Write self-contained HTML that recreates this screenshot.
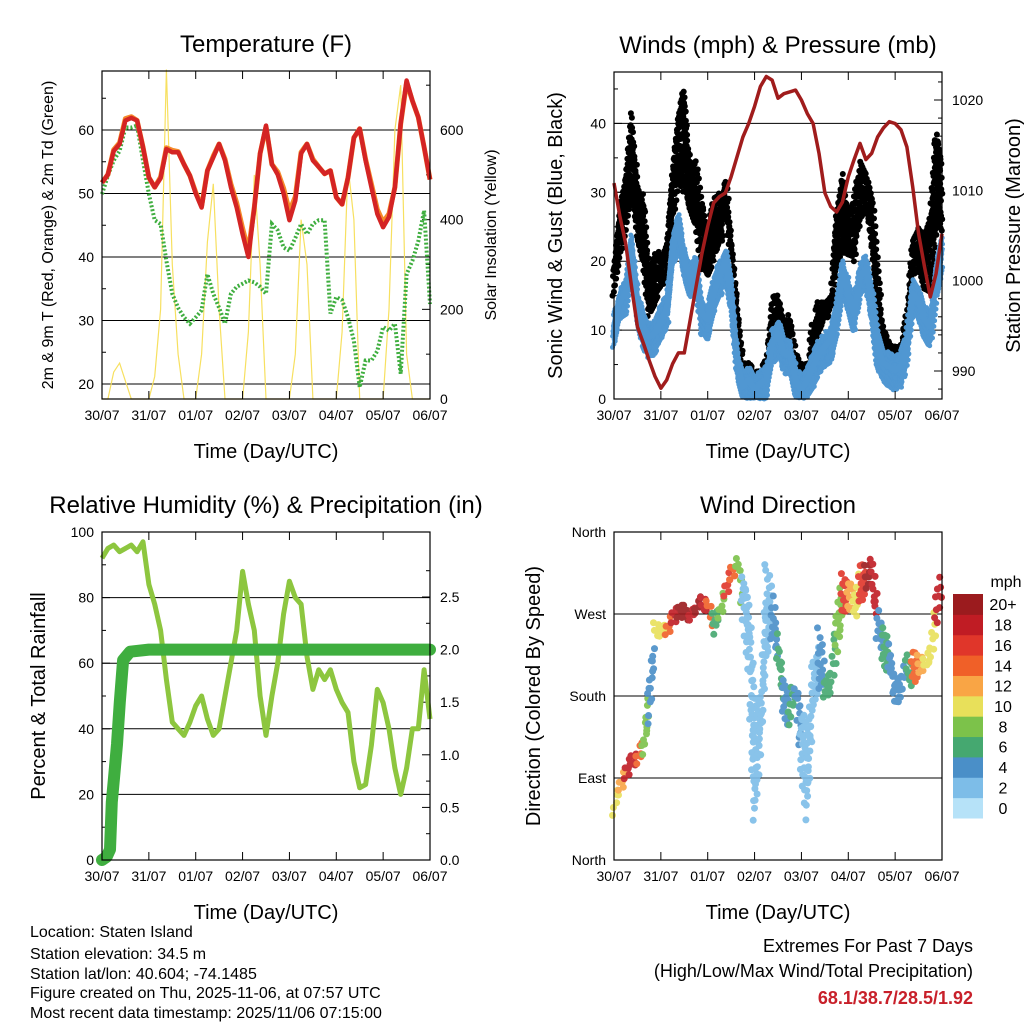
<!DOCTYPE html>
<html><head><meta charset="utf-8"><style>
html,body{margin:0;padding:0;background:#fff;}
svg{display:block;font-family:"Liberation Sans",Arial,sans-serif;}
</style></head><body>
<svg id="chart" width="1024" height="1024" viewBox="0 0 1024 1024" xmlns="http://www.w3.org/2000/svg">
<rect width="1024" height="1024" fill="#fff"/>
<g id="layer"></g>
<g font-size="16" fill="#000">
<text x="30" y="937">Location: Staten Island</text>
<text x="30" y="959">Station elevation: 34.5 m</text>
<text x="30" y="979">Station lat/lon: 40.604; -74.1485</text>
<text x="30" y="998">Figure created on Thu, 2025-11-06, at 07:57 UTC</text>
<text x="30" y="1018">Most recent data timestamp: 2025/11/06 07:15:00</text>
</g>
<g text-anchor="end">
<text x="973" y="952" font-size="18">Extremes For Past 7 Days</text>
<text x="973" y="977" font-size="18">(High/Low/Max Wind/Total Precipitation)</text>
<text x="973" y="1004" font-size="18" font-weight="bold" fill="#c8202a">68.1/38.7/28.5/1.92</text>
</g>
</svg>
<script>
const dayLabels = ["30/07","31/07","01/07","02/07","03/07","04/07","05/07","06/07"];
const tempRed = [51.7,53,56.7,57.8,61.5,61.9,61.5,57.3,52.5,51,52.4,57,56.5,56.5,54.6,52.8,50,47.8,53.6,55.7,57.8,55.2,51,47.8,43.6,40,47.8,56.3,60.7,54.6,53,50,45.8,48.9,56.3,57.8,55.2,54.2,53.1,53.6,49.4,48.3,52.5,58.8,60.2,55.2,51,46.8,44.7,46.3,51,61,67.8,64.6,62,57.3,52.2];
const tempOrange = [51.7,53,56.9,58,61.8,62.1,61.5,57.3,52.5,51,52.6,57.2,56.8,56.6,54.6,52.8,50.2,48,53.6,55.9,57.8,55.4,51.5,48.5,44.5,41,47.8,56.3,60.5,54.6,53.4,50.8,47.2,49.5,56.5,57.8,55.4,54.2,53.1,53.6,49.4,48.3,52.5,58.8,60.2,55.4,51.5,47.5,45.5,46.8,51,61,67.5,64.6,62,57.3,52.2];
const dewGreen = [49.9,52.8,55.2,56.7,60.4,60.4,60.7,55.2,49.9,45.8,45.2,39.4,34.2,32,30.5,29.5,30.5,31.6,37.3,34.2,32,29.5,34.2,35.3,35.8,36.3,36,35.3,34.2,45.2,44.2,41.5,41,43,45.2,43.6,45.2,45.8,45.8,31.1,33.7,33.2,30.5,26.8,19.5,23.7,23.7,25.2,29,28.4,29.5,21.6,37.3,39.4,42.5,47.3,32.6];
const solar = [0,0,60,80,40,0,0,0, 0,50,200,735,300,100,0,0, 0,100,350,480,200,0,0,0, 0,150,500,300,0,0,0,0, 0,100,400,300,0,0,0,0, 0,150,520,400,0,0,0,0, 0,200,600,700,100,0,0,0, 0];
const pressure = [1010.8,1007.1,1004.1,999.3,994.9,993.1,991.2,989.4,988.1,989,990.8,992,992,995.6,999.3,1003,1006,1008.6,1009.3,1009.7,1011.5,1013.7,1015.9,1017.4,1019.3,1021.5,1022.6,1022.2,1020.2,1020.7,1020.9,1021.1,1020,1018.5,1017.4,1014.1,1009.7,1008.2,1007.6,1008.7,1011.5,1013.4,1015.2,1013.4,1014.1,1015.9,1016.9,1017.6,1017.4,1016.7,1014.8,1010.4,1005.2,1001.6,998.2,1000.8,1005.2];
const windSpeed = [10.5,14.3,15.3,22,14,10.5,9,9.5,11.5,13,22,25,20,17.7,19,12.4,11.5,15.3,17.7,20,15.3,5.6,1.8,2.8,1.3,2.3,2.8,8,9.5,6.6,6.6,2.8,1.3,2.8,4.7,6.6,7.6,8.6,12.4,18.2,15.3,12.4,17.7,19,14.3,7.6,5.2,4.7,4.2,4.7,7.6,15.3,14.3,11.5,10.5,17.7,22];
const gustLow = [15,20,25,30,23,20,12,14,16,17,25,32,30,27,25,19,17.7,20,22,26,20,8,3.2,3.7,2.8,3.2,3.7,10.5,11.5,8.5,9,4.7,3.2,3.7,7,9,11.5,12.4,17.7,22,20,20,25,27.4,22,11.5,7.6,6.6,5.6,6.6,9.5,17.2,18.2,15.3,15.3,25,24];
const gustHigh = [21,29,33,42,32,30,19,22,21,24,35,42,45,35,35,29,25,29,30,32,25,15,5.6,5.2,4.2,4.2,5.6,15.3,16,11.5,12.4,7,4.7,5.6,11.5,14.3,14.3,15.3,27.4,33,27.4,28.7,34.6,33,29.8,19,10.5,8.5,8,8,13.4,23,25,24,27.4,39.5,34.6];
const rhValues = [92,95,96,94,95,96,94,97,84,78,70,55,42,40,38,42,47,50,43,38,40,50,60,70,88,78,70,50,38,50,60,75,85,80,78,62,52,58,55,58,52,48,45,30,22,23,35,52,48,40,28,20,28,40,40,58,43];
const precipDays = [0,0.1,0.17,0.21,0.26,0.32,0.38,0.45,0.6,1,7];
const precipTotal = [0,0.03,0.1,0.55,0.8,1.1,1.5,1.9,1.98,2.0,2.0];
const dirLow = [49,75,85,100,104,111,140,243,243,247,258,262,262,262,269,273,273,243,265,287,302,317,258,203,38,111,221,240,214,148,148,177,93,38,166,185,177,185,221,273,273,265,273,295,295,240,210,199,173,173,203,185,203,203,214,258,295];
const dirHigh = [63,89,104,115,126,137,203,265,258,262,276,280,280,276,280,295,287,273,280,305,324,331,313,295,185,185,331,295,258,203,185,199,166,148,221,258,203,210,272,320,313,295,324,328,331,276,265,240,203,210,228,228,228,221,240,295,320];
const dirSpeed = [10,12,18,18,14,8,4,10,10,14,18,20,20,18,20,18,14,6,8,16,14,8,2,2,1,1,2,4,6,4,6,4,2,1,2,4,6,6,8,16,12,10,16,20,18,4,6,4,4,4,6,14,12,10,10,18,18];
const speedColors = ["#b6e2f8","#7dbde8","#4a8fc8","#45a870","#7cc24a","#e8e05a","#f9a545","#f06028","#e0362a","#c01c24","#9b1b1e"];
const speedLabels = ["0","2","4","6","8","10","12","14","16","18","20+"];

const NS="http://www.w3.org/2000/svg";
const layer=document.getElementById('layer');
function mk(tag,attrs,parent){const e=document.createElementNS(NS,tag);for(const k in attrs)e.setAttribute(k,attrs[k]);(parent||layer).appendChild(e);return e;}
function txt(s,attrs,parent){const e=mk('text',attrs,parent);e.textContent=s;return e;}
function tOf(i){return i*0.125;}
function frac(a){return a-Math.floor(a);}

function panel(name,x0,x1,y0,y1){
  const g=mk('g',{});
  
  
  return {g,x0,x1,y0,y1,sx:d=>x0+(x1-x0)*d/7};
}
function frame(p,title,xlab){
  const f=mk('rect',{x:p.x0,y:p.y0,width:p.x1-p.x0,height:p.y1-p.y0,fill:'none',stroke:'#000','stroke-width':1.2},p.g);
  
  
  const t=txt(title,{x:(p.x0+p.x1)/2,y:p.y0-19,'font-size':24,'text-anchor':'middle'},p.g);
  
  
  for(let d=0;d<=7;d++){
    const x=p.sx(d);
    mk('line',{x1:x,x2:x,y1:p.y1,y2:p.y1-8,stroke:'#000','stroke-width':1},p.g);
    mk('line',{x1:x,x2:x,y1:p.y0,y2:p.y0+8,stroke:'#000','stroke-width':1},p.g);
    const l=txt(dayLabels[d],{x:x,y:p.y1+21,'font-size':14,'text-anchor':'middle'},p.g);
    
    
  }
  const xl=txt(xlab,{x:(p.x0+p.x1)/2,y:p.y1+59,'font-size':20,'text-anchor':'middle'},p.g);
  
  
}
function yAxis(p,vals,labels,sy,side,grid,minor){
  vals.forEach((v,i)=>{
    const y=sy(v);
    if(grid) mk('line',{x1:p.x0,x2:p.x1,y1:y,y2:y,stroke:'#000','stroke-width':1},p.g);
    if(side==='left'){
      mk('line',{x1:p.x0,x2:p.x0+8,y1:y,y2:y,stroke:'#000'},p.g);
      const l=txt(labels[i],{x:p.x0-8,y:y+5,'font-size':14,'text-anchor':'end'},p.g);
      
      
    } else {
      mk('line',{x1:p.x1,x2:p.x1-8,y1:y,y2:y,stroke:'#000'},p.g);
      if(labels){const l=txt(labels[i],{x:p.x1+10,y:y+5,'font-size':14},p.g);
      
      }
    }
  });
  if(minor) minor.forEach(v=>{const y=sy(v);const xa=side==='left'?p.x0:p.x1;const xb=side==='left'?p.x0+4:p.x1-4;mk('line',{x1:xa,x2:xb,y1:y,y2:y,stroke:'#000'},p.g);});
}
function ytitle(p,s,x,size){
  const cy=(p.y0+p.y1)/2;
  const t=txt(s,{x:x,y:cy,'font-size':size,'text-anchor':'middle',transform:`rotate(-90 ${x} ${cy})`},p.g);
  
  
}
function poly(p,xs,ys,attrs,name){
  const pts=xs.map((x,i)=>x.toFixed(1)+','+ys[i].toFixed(1)).join(' ');
  const e=mk('polyline',Object.assign({points:pts,fill:'none'},attrs),p.g);
  
  
  return e;
}
// scatter cloud between low/high arrays (layout spread only)
function cloud(p,lo,hi,sy,colorFn,r,name,subs,spacing,op){
  const g=mk('g',{opacity:op},p.g);
  
  
  for(let i=0;i<lo.length-1;i++){
    for(let s=0;s<subs;s++){
      const f=s/subs;
      const t=tOf(i+f);
      const a=lo[i]+(lo[i+1]-lo[i])*f, b=hi[i]+(hi[i+1]-hi[i])*f;
      const ya=sy(a), yb=sy(b);
      const m=Math.max(2,Math.round(Math.abs(ya-yb)/spacing));
      for(let j=0;j<m;j++){
        const q=frac(j*0.618+s*0.37+i*0.113);
        const c=mk('circle',{cx:(p.sx(t)+(frac(j*0.29+s*0.7)-0.5)*3).toFixed(1),cy:(ya+(yb-ya)*q).toFixed(1),r:r,fill:colorFn(i)},g);
      }
    }
  }
  return g;
}

// ---- Panel 1: Temperature
const p1=panel('temperature-panel',102,430,71,399);
const sT=v=>384-(v-20)*6.35;
const sS=v=>399-v*0.4483;
yAxis(p1,[20,30,40,50,60],["20","30","40","50","60"],sT,'left',true,[25,35,45,55,65]);
yAxis(p1,[0,200,400,600],["0","200","400","600"],sS,'right',false,[100,300,500,700]);
const xs57=tempRed.map((_,i)=>p1.sx(tOf(i)));
poly(p1,xs57,solar.map(sS),{stroke:'#f7e060','stroke-width':1.2},'solar-insolation-line');
poly(p1,xs57,dewGreen.map(sT),{stroke:'#3fae3f','stroke-width':4,'stroke-dasharray':'2 2'},'dewpoint-line');
poly(p1,xs57,tempOrange.map(sT),{stroke:'#f58a2a','stroke-width':5,'stroke-linejoin':'round'},'temp-9m-line');
poly(p1,xs57,tempRed.map(sT),{stroke:'#d42424','stroke-width':4.5,'stroke-linejoin':'round'},'temp-2m-line');
frame(p1,'Temperature (F)','Time (Day/UTC)');
ytitle(p1,'2m & 9m T (Red, Orange) & 2m Td (Green)',53,16);
ytitle(p1,'Solar Insolation (Yellow)',496,16);

// ---- Panel 2: Winds
const p2=panel('winds-panel',614,942,72,399);
const sW=v=>399-v*6.89;
const sP=v=>371-(v-990)*9.033;
yAxis(p2,[0,10,20,30,40],["0","10","20","30","40"],sW,'left',false,[5,15,25,35,45]);
[10,20,30,40].forEach(v=>mk('line',{x1:p2.x0,x2:p2.x1,y1:sW(v),y2:sW(v),stroke:'#000'},p2.g));
yAxis(p2,[990,1000,1010,1020],["990","1000","1010","1020"],sP,'right',false,[988,992,994,996,998,1002,1004,1006,1008,1012,1014,1016,1018,1022]);
const xw=windSpeed.map((_,i)=>p2.sx(tOf(i)));
cloud(p2,gustLow,gustHigh,sW,()=>'#000',3,'gust-points',5,6,1);
const wLo=windSpeed.map(v=>Math.max(0,v-3)), wHi=windSpeed.map(v=>v+2);
cloud(p2,wLo,wHi,sW,()=>'#5097d2',2.5,'sustained-wind-points',8,3,1);
poly(p2,xw,windSpeed.map(sW),{stroke:'#5097d2','stroke-width':6,'stroke-linejoin':'round'},'sustained-wind-line');
poly(p2,xw,pressure.map(sP),{stroke:'#a01c1c','stroke-width':3.5,'stroke-linejoin':'round'},'pressure-line');
frame(p2,'Winds (mph) & Pressure (mb)','Time (Day/UTC)');
ytitle(p2,'Sonic Wind & Gust (Blue, Black)',562,20);
ytitle(p2,'Station Pressure (Maroon)',1020,20);

// ---- Panel 3: RH & precip
const p3=panel('humidity-precip-panel',102,430,532,860);
const sR=v=>860-v*3.28;
const sI=v=>860-v*105.2;
yAxis(p3,[0,20,40,60,80,100],["0","20","40","60","80","100"],sR,'left',false,[10,30,50,70,90]);
[20,40,60,80].forEach(v=>mk('line',{x1:p3.x0,x2:p3.x1,y1:sR(v),y2:sR(v),stroke:'#000'},p3.g));
yAxis(p3,[0,0.5,1,1.5,2,2.5],["0.0","0.5","1.0","1.5","2.0","2.5"],sI,'right',false,[0.25,0.75,1.25,1.75,2.25,2.75]);
poly(p3,rhValues.map((_,i)=>p3.sx(tOf(i))),rhValues.map(sR),{stroke:'#8dc63f','stroke-width':5,'stroke-linejoin':'round'},'relative-humidity-line');
poly(p3,precipDays.map(p3.sx),precipTotal.map(sI),{stroke:'#3fae3f','stroke-width':12,'stroke-linecap':'round','stroke-linejoin':'round'},'precipitation-line');
frame(p3,'Relative Humidity (%) & Precipitation (in)','Time (Day/UTC)');
ytitle(p3,'Percent & Total Rainfall',45,20);

// ---- Panel 4: Wind direction
const p4=panel('wind-direction-panel',614,942,532,860);
const sD=v=>860-v*0.9111;
yAxis(p4,[0,90,180,270,360],["North","East","South","West","North"],sD,'left',false,null);
[90,180,270].forEach(v=>mk('line',{x1:p4.x0,x2:p4.x1,y1:sD(v),y2:sD(v),stroke:'#000'},p4.g));
[90,180,270].forEach(v=>mk('line',{x1:p4.x1,x2:p4.x1-8,y1:sD(v),y2:sD(v),stroke:'#000'},p4.g));
function binOf(s){return Math.min(10,Math.round(s/2));}
cloud(p4,dirLow,dirHigh,sD,i=>speedColors[binOf(dirSpeed[i])],3.5,'direction-points',3,9,0.9);
frame(p4,'Wind Direction','Time (Day/UTC)');
ytitle(p4,'Direction (Colored By Speed)',540,20);

// colorbar
const cb=mk('g',{});


const bh=224/11;
speedColors.forEach((c,k)=>{
  const y=818-(k+1)*bh;
  const r=mk('rect',{x:953,y:y,width:30,height:bh+0.5,fill:c},cb);
  
  
  const l=txt(speedLabels[k],{x:1003,y:y+bh/2+6,'font-size':16,'text-anchor':'middle'},cb);
  
  
});
const mph=txt('mph',{x:1006,y:587,'font-size':16,'text-anchor':'middle'},cb);


</script>
</body></html>
